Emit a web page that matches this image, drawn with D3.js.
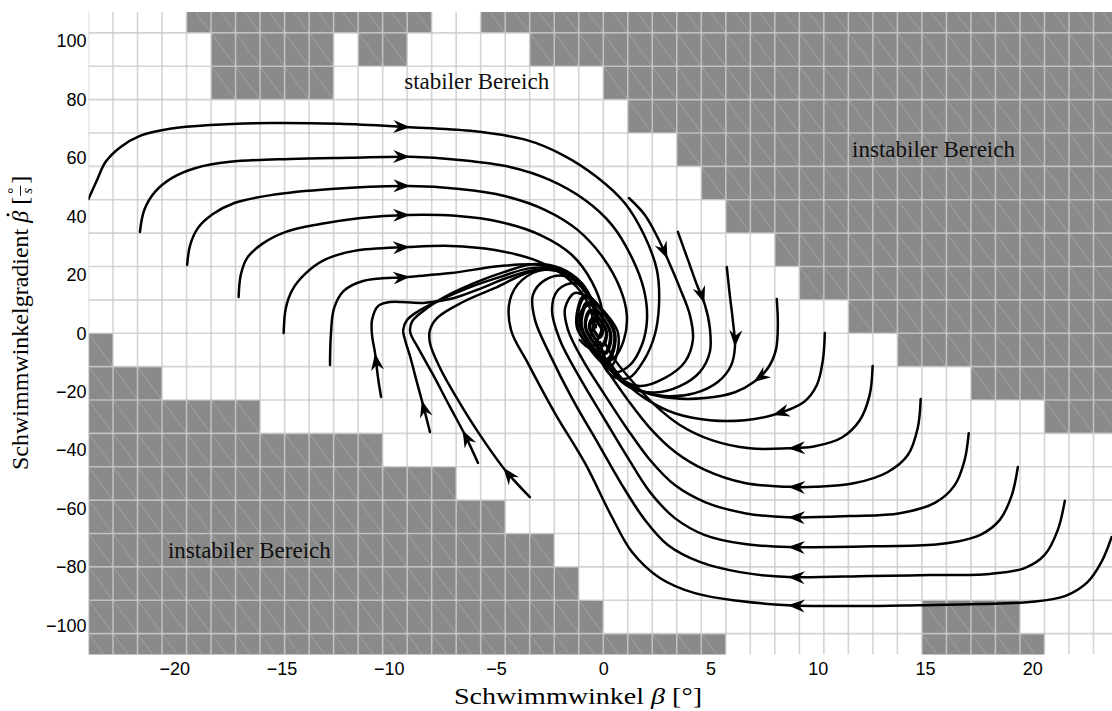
<!DOCTYPE html>
<html>
<head>
<meta charset="utf-8">
<script src="https://cdn.jsdelivr.net/npm/d3@7"></script>
<style>
  body { margin: 0; background: #fff; }
  svg { display: block; }
</style>
</head>
<body>
<svg id="chart" width="1112" height="711"></svg>
<script>
// ---- axes ----
const xDomain = [-24, 24];
const yDomain = [-110, 110];
const xTicks = [-20, -15, -10, -5, 0, 5, 10, 15, 20];
const yTicks = [-100, -80, -60, -40, -20, 0, 20, 40, 60, 80, 100];

// ---- stability map: cell size and unstable cells per row band ----
const cellWidth = 8 / 7;      // degrees
const cellHeight = 80 / 7;    // degrees per second
const cellOriginX = -24;
// row k covers [k*cellHeight, (k+1)*cellHeight]; spans are inclusive column ranges
const unstableRows = [
  { row: 9,   spans: [[4, 13], [16, 41]] },
  { row: 8,   spans: [[5, 9], [11, 12], [18, 41]] },
  { row: 7,   spans: [[5, 9], [21, 41]] },
  { row: 6,   spans: [[22, 41]] },
  { row: 5,   spans: [[24, 41]] },
  { row: 4,   spans: [[25, 41]] },
  { row: 3,   spans: [[26, 41]] },
  { row: 2,   spans: [[28, 41]] },
  { row: 1,   spans: [[29, 41]] },
  { row: 0,   spans: [[31, 41]] },
  { row: -1,  spans: [[0, 0], [33, 41]] },
  { row: -2,  spans: [[0, 2], [36, 41]] },
  { row: -3,  spans: [[0, 6], [39, 41]] },
  { row: -4,  spans: [[0, 11]] },
  { row: -5,  spans: [[0, 14]] },
  { row: -6,  spans: [[0, 16]] },
  { row: -7,  spans: [[0, 18]] },
  { row: -8,  spans: [[0, 19]] },
  { row: -9,  spans: [[0, 20], [34, 37]] },
  { row: -10, spans: [[0, 25], [34, 38]] }
];

// ---- trajectories [beta, betaDot] ----
const trajU1 = [[-24.0,46],[-23.6,52.5],[-23.2,58.7],[-22.5,63.8],[-21.6,67.6],[-20.2,70],[-18.3,71.3],[-15.5,72],[-12.3,71.7],[-9.2,70.6],[-6.2,69.3],[-3.6,66.2],[-1.9,61.1],[-0.3,53.5],[1.0,44.6],[1.9,33.7],[2.5,21.7],[2.6,9.7],[2.4,-0.6],[1.9,-9.2],[1.2,-15.3],[0.4,-14.6],[-0.1,-9.2],[-0.25,-3]];
const trajU2 = [[-21.6,34.7],[-21.4,42.2],[-20.9,48.4],[-20.1,53.2],[-19.0,56.6],[-17.4,58.7],[-14.6,59.7],[-11.8,60.1],[-9.0,60.4],[-6.7,59.3],[-4.35,56.9],[-2.5,52.5],[-0.85,45.6],[0.4,37.1],[1.34,25.8],[1.9,14.8],[2.04,4.6],[1.8,-4.0],[1.24,-10.9],[0.55,-13.3],[0.0,-9.8],[-0.25,-4.0]];
const trajU3 = [[-19.4,23.4],[-19.26,30.2],[-18.9,36.0],[-18.2,40.8],[-17.2,44.6],[-15.5,47.3],[-12.7,49.4],[-9.1,50.4],[-6.7,49.4],[-4.6,47.0],[-2.7,42.2],[-1.2,35.4],[0.0,25.8],[0.78,15.5],[1.1,6.2],[0.96,-2.3],[0.5,-8.5],[0.0,-9.8],[-0.34,-5.7]];
const trajU4 = [[-17.0,12.4],[-16.9,20.0],[-16.6,25.8],[-15.9,30.6],[-14.8,34.7],[-13.2,37.4],[-11.3,39.5],[-9.1,40.5],[-6.9,40.2],[-4.8,38.1],[-2.95,33.7],[-1.46,26.8],[-0.53,17.6],[-0.06,8.0],[-0.15,-0.6],[-0.62,-5.0],[-1.09,-2.3]];
const trajU5 = [[-14.9,0.1],[-14.8,8.6],[-14.5,14.8],[-13.9,20.3],[-13.0,25.1],[-11.6,28.2],[-9.1,29.5],[-7.1,29.9],[-5.05,28.5],[-3.2,25.1],[-1.8,19.6],[-0.85,12.1],[-0.48,3.9],[-0.62,-1.6]];
const trajU6 = [[-12.74,-10.9],[-12.7,-0.6],[-12.55,8.6],[-12.1,14.5],[-11.2,17.9],[-9.1,19.3],[-7.1,20.6],[-4.8,23.0],[-2.95,23.4],[-1.55,20.0],[-0.71,13.1],[-0.39,5.2],[-0.53,0.4]];
const trajL1 = [[-10.36,-21.8],[-10.5,-15.3],[-10.64,-6.8],[-10.78,-0.6],[-10.78,4.5],[-10.5,9.3],[-9.94,10.7],[-8.4,10.4],[-7.14,11.7],[-5.9,14.8],[-4.5,18.9],[-3.2,21.7],[-2.0,21.0],[-1.1,16.5],[-0.53,10.7],[-0.29,5.2]];
const trajL2 = [[-8.08,-33.8],[-8.4,-24.6],[-8.68,-17.0],[-9.0,-8.1],[-9.24,-2.3],[-9.33,1.1],[-9.15,4.5],[-8.68,7.3],[-7.6,11.4],[-6.2,15.8],[-4.8,19.3],[-3.4,22.3],[-2.1,21.7],[-1.1,16.5],[-0.48,9.7],[-0.29,3.9]];
const trajL3 = [[-5.84,-44.4],[-6.45,-34.8],[-7.14,-25.3],[-7.98,-13.6],[-8.63,-5.0],[-9.0,0.4],[-8.92,3.9],[-8.45,7.3],[-7.47,12.1],[-6.0,17.2],[-4.6,21.0],[-3.2,23.7],[-2.0,22.3],[-1.0,17.2],[-0.43,9.7],[-0.25,3.9]];
const trajL4 = [[-3.42,-56.1],[-4.58,-46.8],[-5.75,-34.8],[-6.77,-22.9],[-7.61,-11.9],[-8.08,-3.3],[-8.08,1.1],[-7.75,5.2],[-6.54,10.7],[-4.95,15.8],[-3.42,21.0],[-2.1,21.7],[-1.1,16.9],[-0.43,10.0],[-0.25,3.9]];
const trajS1 = [[1.2,46.3],[1.94,40.5],[2.55,32.6],[3.06,24.4],[3.57,15.5],[4.04,6.2],[4.18,-2.3],[3.81,-9.8],[2.88,-15.3],[1.71,-18.1],[0.78,-15.3],[0.13,-9.2],[-0.15,-3.0]];
const trajS2 = [[3.48,34.7],[3.95,25.1],[4.37,16.5],[4.74,9.7],[4.97,1.8],[4.97,-6.4],[4.5,-13.3],[3.57,-18.1],[2.41,-20.3],[1.24,-18.5],[0.41,-13.3],[-0.06,-6.4]];
const trajS3 = [[5.76,22.7],[5.9,13.1],[6.04,4.5],[6.14,-4.7],[5.95,-11.2],[5.34,-16.7],[4.27,-20.5],[2.88,-21.5],[1.62,-19.4],[0.55,-14.3],[0.0,-7.4]];
const trajS4 = [[8.09,11.7],[8.14,2.8],[8.05,-5.7],[7.68,-11.9],[7.02,-16.7],[6.14,-20.2],[4.74,-22.2],[3.2,-22.2],[1.94,-20.2],[0.87,-16.0],[0.17,-9.8]];
const trajS5 = [[10.33,0.1],[10.24,-9.2],[9.96,-17.7],[9.34,-23.6],[7.91,-28.0],[6.6,-29.8],[4.97,-29.8],[3.34,-27.4],[2.08,-22.9],[1.01,-16.7],[0.31,-10.2]];
const trajS6 = [[12.56,-11.2],[12.42,-21.2],[11.96,-29.8],[11.13,-35.7],[9.87,-38.7],[8.61,-39.4],[6.83,-39.4],[5.06,-36.6],[3.57,-31.4],[2.41,-24.6],[1.38,-16.7],[0.55,-9.2],[0.08,-3.3]];
const trajR5 = [[14.8,-22.5],[14.66,-32.5],[14.2,-41.7],[13.27,-47.5],[11.73,-51.3],[9.87,-52.6],[8.61,-52.6],[6.6,-51.3],[4.74,-46.8],[3.34,-40.6],[2.18,-32.5],[1.15,-22.9],[0.17,-12.6],[-0.62,-4.0],[-1.09,2.8],[-0.99,8.0],[-0.53,9.7],[-0.25,5.2]];
const trajR4 = [[17.04,-34.2],[16.85,-43.4],[16.39,-52.0],[15.46,-58.1],[13.83,-61.6],[11.5,-62.6],[8.61,-63.0],[6.6,-61.6],[4.74,-57.8],[3.34,-52.0],[2.18,-43.4],[1.15,-33.1],[0.08,-21.2],[-0.95,-9.2],[-1.64,1.1],[-1.78,8.6],[-1.32,13.8],[-0.62,11.4],[-0.29,5.9]];
const trajR3 = [[19.33,-45.8],[19.05,-55.4],[18.49,-63.9],[17.56,-69.1],[15.69,-72.2],[12.9,-72.9],[8.61,-73.2],[6.6,-72.2],[4.74,-69.1],[3.34,-63.3],[2.18,-54.4],[1.15,-42.7],[0.08,-29.7],[-1.09,-15.3],[-2.02,-2.3],[-2.39,8.0],[-2.11,14.8],[-1.32,17.2],[-0.62,12.8],[-0.29,6.2]];
const trajR2 = [[21.52,-57.4],[21.19,-67.4],[20.58,-75.9],[19.65,-80.4],[18.02,-82.4],[15.22,-82.8],[12.43,-83.1],[8.61,-83.5],[6.37,-81.8],[4.5,-78.3],[3.01,-72.5],[1.94,-63.9],[0.87,-51.9],[-0.25,-37.6],[-1.46,-22.2],[-2.48,-7.4],[-3.18,4.5],[-3.28,13.1],[-2.72,18.2],[-1.78,19.6],[-0.85,14.8],[-0.34,7.3]];
const trajR1 = [[23.7,-69.8],[23.23,-78.3],[22.58,-85.2],[21.52,-90.0],[19.89,-92.0],[17.56,-92.7],[14.76,-93.1],[11.96,-93.4],[8.61,-93.1],[6.37,-91.7],[4.27,-89.0],[2.64,-83.8],[1.34,-74.9],[0.41,-63.0],[-0.85,-44.5],[-2.25,-27.4],[-3.51,-10.3],[-4.3,1.1],[-4.35,11.4],[-3.79,18.2],[-2.72,21.7],[-1.55,19.6],[-0.71,13.1],[-0.34,6.2]];
// tightly wound ends of the spiral around the focus (entering from the upper and the lower arm)
const trajCoreA = [[-0.95,14.8],[0.69,0.1],[0.31,-11.6],[-1.18,2.1],[-0.83,12.4],[0.50,0.1],[0.17,-8.8],[-0.99,2.1],[-0.71,10.0],[0.31,0.1],[0.08,-6.4],[-0.81,2.1],[-0.59,7.3],[0.13,0.4],[-0.06,-3.7],[-0.62,1.8],[-0.46,4.5],[-0.06,0.8],[-0.20,-0.9],[-0.43,1.5],[-0.34,2.1]];
const trajCoreB = [[0.34,-12.2],[-1.23,2.1],[-0.86,13.1],[0.55,0.1],[0.21,-9.5],[-1.04,2.1],[-0.75,10.7],[0.36,0.1],[0.10,-7.1],[-0.85,2.1],[-0.62,8.0],[0.17,0.4],[-0.03,-4.4],[-0.67,2.1],[-0.49,5.2],[-0.01,0.8],[-0.16,-1.6],[-0.48,1.8],[-0.34,2.8]];

// arrow tips placed on the trajectories
const arrowTips = [
  [trajU1, [-9.0, 70.6]], [trajU2, [-9.0, 60.4]], [trajU3, [-9.0, 50.4]],
  [trajU4, [-9.0, 40.5]], [trajU5, [-9.0, 29.5]], [trajU6, [-9.0, 19.3]],
  [trajL1, [-10.64, -6.8]], [trajL2, [-8.4, -22.9]], [trajL3, [-6.5, -33.1]], [trajL4, [-4.67, -46.1]],
  [trajS1, [3.06, 25.8]], [trajS2, [4.74, 10.4]], [trajS3, [6.14, -4.7]],
  [trajS4, [7.02, -16.7]], [trajS5, [7.91, -28.0]], [trajS6, [8.61, -39.4]],
  [trajR5, [8.61, -52.6]], [trajR4, [8.61, -63.0]], [trajR3, [8.61, -73.2]],
  [trajR2, [8.61, -83.5]], [trajR1, [8.61, -93.1]]
];
const trajectories = [trajU1, trajU2, trajU3, trajU4, trajU5, trajU6, trajL1, trajL2, trajL3, trajL4,
  trajS1, trajS2, trajS3, trajS4, trajS5, trajS6, trajR5, trajR4, trajR3, trajR2, trajR1,
  trajCoreA, trajCoreB];

// ---- texts ----
const regionLabels = [
  { text: "stabiler Bereich",   at: [-5.9, 83.5] },
  { text: "instabiler Bereich", at: [15.4, 60.5] },
  { text: "instabiler Bereich", at: [-16.5, -77.0] }
];
const xTitle = ["Schwimmwinkel ", "β", " [°]"];
const yTitle = ["Schwimmwinkelgradient ", "β", " ["];

// ---- layout ----
const W = 1112, H = 711;
const plotLeft = 88.5, plotRight = 1118, plotTop = 12, plotBottom = 654.5;
const serif = "'Liberation Serif', 'DejaVu Serif', serif";
const sans = "'Liberation Sans', Arial, sans-serif";

const svg = d3.select("#chart");
const x = d3.scaleLinear().domain(xDomain).range([plotLeft, plotRight]);
const y = d3.scaleLinear().domain(yDomain).range([plotBottom, plotTop]);

svg.append("defs").append("clipPath").attr("id", "plotClip")
  .append("rect").attr("x", plotLeft).attr("y", plotTop)
  .attr("width", W - plotLeft).attr("height", plotBottom - plotTop);

const plot = svg.append("g").attr("clip-path", "url(#plotClip)");

// unstable cells
const cells = [];
unstableRows.forEach(r => r.spans.forEach(([c0, c1]) => {
  for (let c = c0; c <= c1; c++) cells.push({ c, k: r.row });
}));
const cx0 = d => x(cellOriginX + d.c * cellWidth);
const cx1 = d => x(cellOriginX + (d.c + 1) * cellWidth);
const cy0 = d => y((d.k + 1) * cellHeight);
const cy1 = d => y(d.k * cellHeight);

plot.append("g").selectAll("rect").data(cells).join("rect")
  .attr("x", cx0).attr("y", cy0)
  .attr("width", d => cx1(d) - cx0(d))
  .attr("height", d => cy1(d) - cy0(d))
  .attr("fill", "#8a8a8a");

plot.append("g").selectAll("line").data(cells).join("line")
  .attr("x1", cx0).attr("y1", cy0).attr("x2", cx1).attr("y2", cy1)
  .attr("stroke", "#a9a9a9").attr("stroke-width", 0.8);

// grid
const colEdges = d3.range(0, 43).map(c => cellOriginX + c * cellWidth);
const rowEdges = d3.range(-9, 10).map(k => k * cellHeight);
const grid = plot.append("g").attr("stroke", "#c9c9c9").attr("stroke-opacity", 0.8).attr("stroke-width", 1.6);
grid.selectAll("line.v").data(colEdges).join("line").attr("class", "v")
  .attr("x1", d => x(d)).attr("x2", d => x(d)).attr("y1", plotTop).attr("y2", plotBottom);
grid.selectAll("line.h").data(rowEdges).join("line").attr("class", "h")
  .attr("x1", plotLeft).attr("x2", W).attr("y1", d => y(d)).attr("y2", d => y(d));

// trajectories
const line = d3.line().x(d => x(d[0])).y(d => y(d[1])).curve(d3.curveCatmullRom.alpha(0.5));
const paths = new Map();
const trajG = plot.append("g").attr("fill", "none").attr("stroke", "#000")
  .attr("stroke-width", 2.5).attr("stroke-linejoin", "round").attr("stroke-linecap", "round");
trajectories.forEach(t => {
  const p = trajG.append("path").attr("d", line(t));
  paths.set(t, p.node());
});

// arrowheads: tip at the closest point on the drawn curve, aligned with its tangent
const arrowShape = "M0,0 L-17,-6.5 L-11.5,0 L-17,6.5 Z";
const arrowG = plot.append("g").attr("fill", "#000");
arrowTips.forEach(([t, tip]) => {
  const node = paths.get(t);
  const len = node.getTotalLength();
  const tx = x(tip[0]), ty = y(tip[1]);
  let best = 0, bestD = Infinity;
  for (let l = 0; l <= len; l += 0.5) {
    const p = node.getPointAtLength(l);
    const dd = (p.x - tx) ** 2 + (p.y - ty) ** 2;
    if (dd < bestD) { bestD = dd; best = l; }
  }
  const p0 = node.getPointAtLength(Math.max(0, best - 4));
  const p1 = node.getPointAtLength(Math.min(len, best + 4));
  const pt = node.getPointAtLength(best);
  const ang = Math.atan2(p1.y - p0.y, p1.x - p0.x) * 180 / Math.PI;
  arrowG.append("path").attr("d", arrowShape)
    .attr("transform", `translate(${pt.x},${pt.y}) rotate(${ang})`);
});

// region labels
svg.append("g").selectAll("text").data(regionLabels).join("text")
  .attr("x", d => x(d.at[0])).attr("y", d => y(d.at[1]))
  .attr("text-anchor", "middle")
  .attr("font-family", serif).attr("font-size", 23).attr("fill", "#111")
  .text(d => d.text);

// tick labels
const xAxis = svg.append("g").attr("transform", `translate(0,${plotBottom})`)
  .call(d3.axisBottom(x).tickValues(xTicks).tickSize(0).tickPadding(8));
const yAxis = svg.append("g").attr("transform", `translate(${plotLeft},0)`)
  .call(d3.axisLeft(y).tickValues(yTicks).tickSize(0).tickPadding(2));
[xAxis, yAxis].forEach(a => {
  a.select(".domain").remove();
  a.selectAll("text").attr("font-family", sans).attr("font-size", 18).attr("fill", "#000");
});

// x axis title
const xt = svg.append("text").attr("x", 578).attr("y", 704).attr("text-anchor", "middle")
  .attr("font-family", serif).attr("font-size", 24).attr("fill", "#000")
  .attr("textLength", 248).attr("lengthAdjust", "spacingAndGlyphs");
xt.append("tspan").text(xTitle[0]);
xt.append("tspan").attr("font-style", "italic").text(xTitle[1]);
xt.append("tspan").text(xTitle[2]);

// y axis title with dotted beta and stacked unit
const yg = svg.append("g").attr("transform", "translate(28,470) rotate(-90)");
const yt = yg.append("text").attr("x", 0).attr("y", 0)
  .attr("font-family", serif).attr("font-size", 24).attr("fill", "#000");
yt.append("tspan").text(yTitle[0]);
yt.append("tspan").attr("font-style", "italic").text(yTitle[1]);
yt.append("tspan").text(yTitle[2]);
const betaIdx = yTitle[0].length;
const ytNode = yt.node();
const bStart = ytNode.getStartPositionOfChar(betaIdx).x;
const bEnd = ytNode.getEndPositionOfChar(betaIdx).x;
yg.append("circle").attr("cx", (bStart + bEnd) / 2 + 2).attr("cy", -20).attr("r", 1.5).attr("fill", "#000");
const L = ytNode.getComputedTextLength();
yg.append("text").attr("x", L + 6).attr("y", -10).attr("text-anchor", "middle")
  .attr("font-family", serif).attr("font-size", 15).text("°");
yg.append("line").attr("x1", L + 1).attr("x2", L + 11).attr("y1", -7.5).attr("y2", -7.5)
  .attr("stroke", "#000").attr("stroke-width", 0.9);
yg.append("text").attr("x", L + 6).attr("y", 4).attr("text-anchor", "middle")
  .attr("font-family", serif).attr("font-style", "italic").attr("font-size", 15).text("s");
yg.append("text").attr("x", L + 13).attr("y", 0)
  .attr("font-family", serif).attr("font-size", 24).text("]");
</script>
</body>
</html>
